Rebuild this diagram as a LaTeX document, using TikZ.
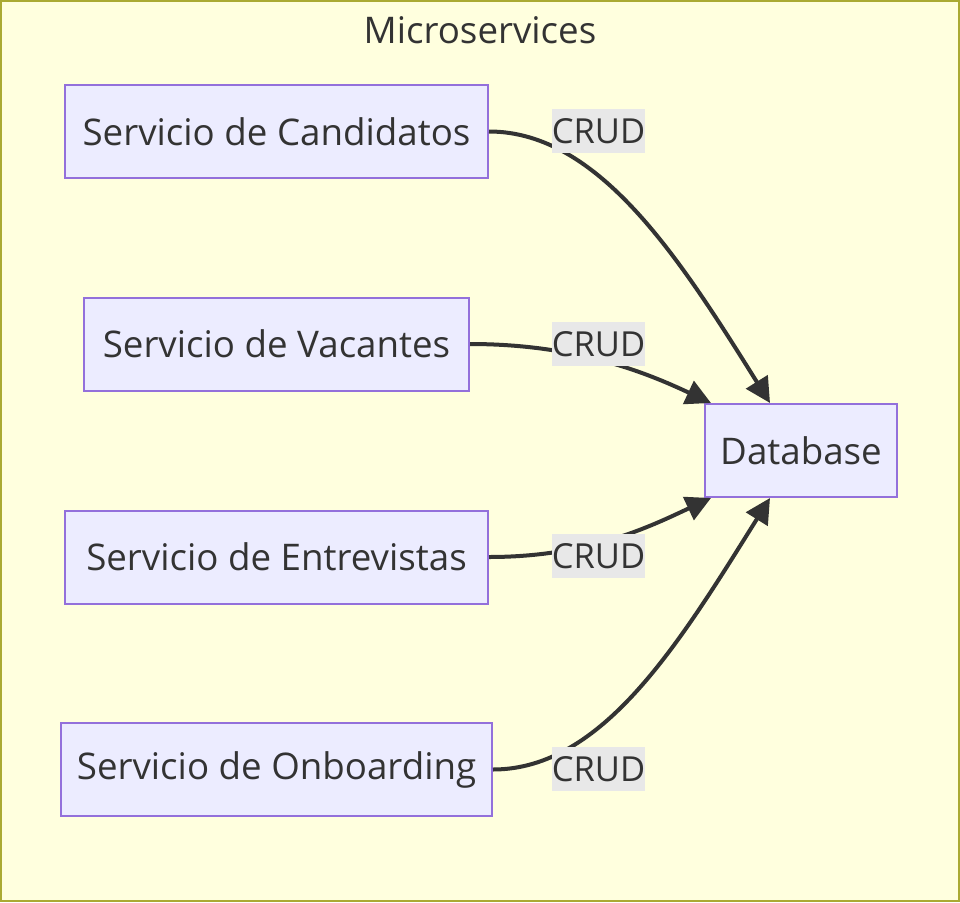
\documentclass[tikz,border=0pt]{standalone}
\usepackage{fontspec}
\setmainfont{Open Sans}
\usetikzlibrary{arrows.meta}
\definecolor{clusterbg}{HTML}{FFFFDE}
\definecolor{clusterline}{HTML}{AAAA33}
\definecolor{nodebg}{HTML}{ECECFF}
\definecolor{nodeline}{HTML}{9370DB}
\definecolor{edgecol}{HTML}{333333}
\definecolor{labelbg}{HTML}{E8E8E8}

\begin{document}
\begin{tikzpicture}[x=1pt,y=-1pt,
  svc/.style={draw=nodeline,fill=nodebg,line width=2pt,minimum height=93pt,
    inner sep=0pt,text=edgecol,font=\fontsize{36.7}{44}\selectfont},
  crud/.style={fill=labelbg,minimum width=93pt,minimum height=44pt,
    inner sep=0pt,text=edgecol,font=\fontsize{34.5}{42}\selectfont},
  link/.style={draw=edgecol,line width=4pt,-{Triangle[length=25pt,width=25pt]}}]
  \useasboundingbox (0,0) rectangle (960,902);
  \draw[draw=clusterline,fill=clusterbg,line width=2pt] (1,1) rectangle (959,901);
  \node[text=edgecol,font=\fontsize{36.7}{44}\selectfont] (title) at (480,30) {Microservices};
  \node[svc,minimum width=423pt] (cand) at (276.5,131.5) {Servicio de Candidatos};
  \node[svc,minimum width=385pt] (vac) at (276.5,344) {Servicio de Vacantes};
  \node[svc,minimum width=423pt] (entr) at (276.5,557) {Servicio de Entrevistas};
  \node[svc,minimum width=431pt] (onb) at (276.5,769.5) {Servicio de Onboarding};
  \node[svc,minimum width=192pt] (db) at (801,450.5) {Database};
  \draw[link] (cand.east) .. controls +(110,0) and +(-90,-144) .. ([xshift=-31pt]db.north);
  \draw[link] (vac.east) .. controls +(110,0) and +(-60,-28) .. ([xshift=7pt]db.north west);
  \draw[link] (entr.east) .. controls +(100,0) and +(-60,28) .. ([xshift=7pt]db.south west);
  \draw[link] (onb.east) .. controls +(110,0) and +(-90,144) .. ([xshift=-31pt]db.south);
  \node[crud] (c1) at (598.5,131) {CRUD};
  \node[crud] (c2) at (598.5,344) {CRUD};
  \node[crud] (c3) at (598.5,556) {CRUD};
  \node[crud] (c4) at (598.5,769) {CRUD};
\end{tikzpicture}
\end{document}
